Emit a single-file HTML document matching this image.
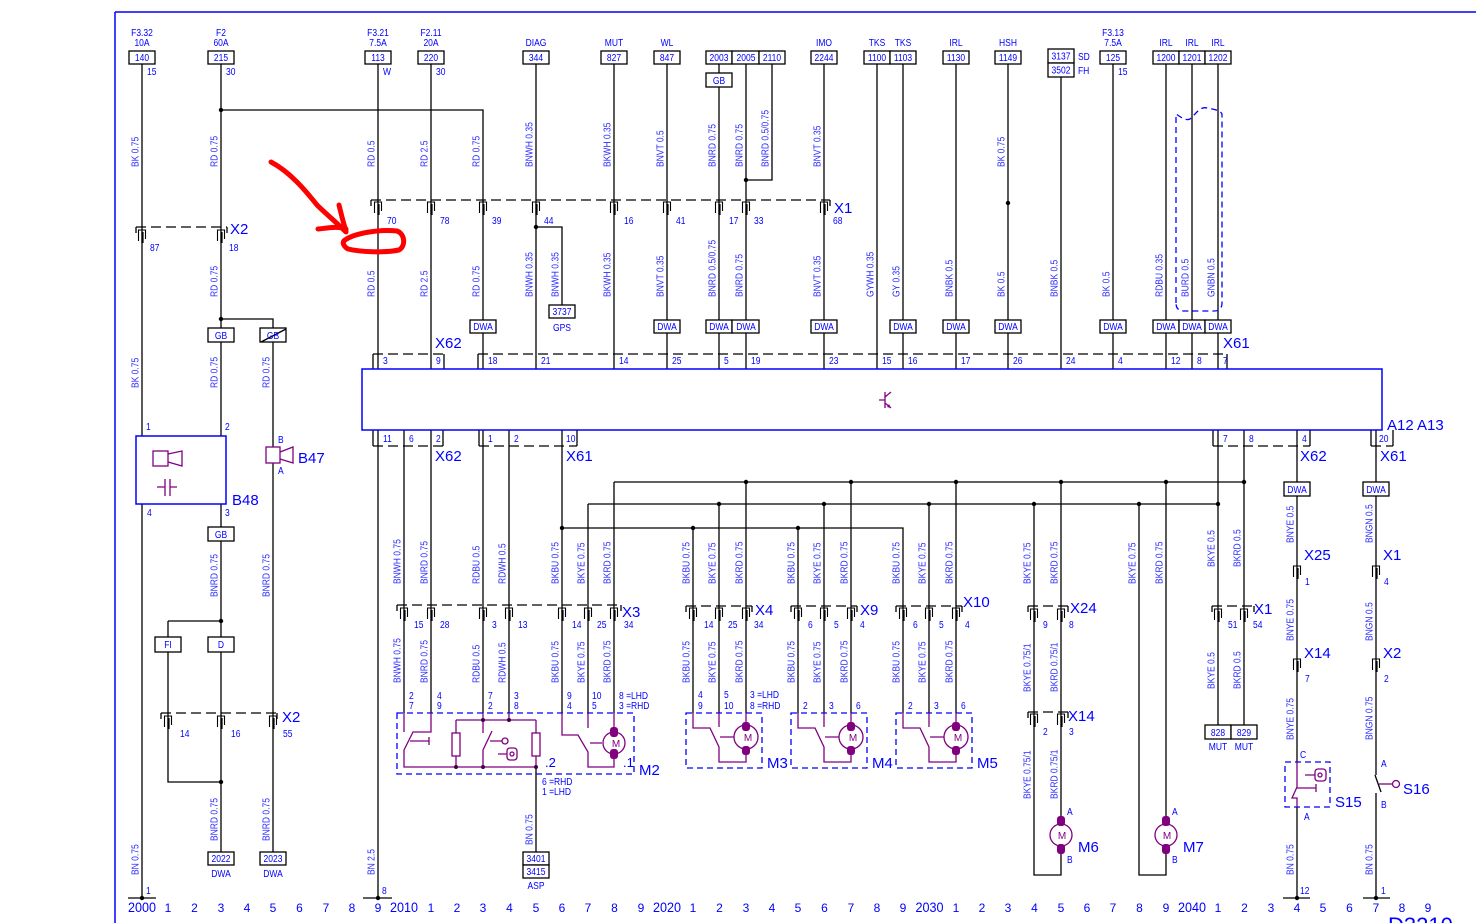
<!DOCTYPE html>
<html><head><meta charset="utf-8"><style>
html,body{margin:0;padding:0;background:#fff}
svg{display:block}
.w{stroke:#000;stroke-width:1.3;fill:none}
.d{stroke:#000;stroke-width:1.3;fill:none;stroke-dasharray:10 5}
.b{fill:#fff;stroke:#000;stroke-width:1.3}
.t{font-family:"Liberation Sans",sans-serif;font-size:10px;fill:#0000ff}
.m{text-anchor:middle}
.r{font-family:"Liberation Sans",sans-serif;font-size:10px;fill:#2a2aff}
.L{font-family:"Liberation Sans",sans-serif;font-size:15px;fill:#0000ff}
.p{stroke:#800080;stroke-width:1.3;fill:none}
.bl{stroke:#0000ff;stroke-width:1.5;fill:none}
.bd{stroke:#0000ff;stroke-width:1.3;fill:none;stroke-dasharray:6 4}
.n{font-family:"Liberation Sans",sans-serif;font-size:12px;fill:#0000ff;text-anchor:middle}
.N{font-family:"Liberation Sans",sans-serif;font-size:14px;fill:#0000ff;text-anchor:middle}
.mt{font-family:"Liberation Sans",sans-serif;font-size:10px;fill:#800080;text-anchor:middle}
</style></head><body>
<svg width="1476" height="923" viewBox="0 0 1476 923">
<defs>
<g id="p"><path d="M-3.5,11V0H3.5V9" fill="none" stroke="#000" stroke-width="1.1"/><path d="M0.5,2V13" stroke="#000" stroke-width="2.2"/></g>
</defs>
<rect x="0" y="0" width="1476" height="923" fill="#fff"/>
<!-- border -->
<path class="bl" d="M115,12H1476M115,12V923"/>

<!-- wires -->
<path class="w" d="M142,64V436M142,504V898
M221,64V436M221,504V852
M221,110H483V369
M221,319H273V447M273,463V852
M168,621H221M168,621V782H221
M378,64V369M378,430V898
M431,64V369M431,430V713
M483,430V713
M536,64V369M536,227H562V305
M404,430V713M509,430V713M562,430V713
M562,528H903V713M693,528V713M798,528V713
M588,504H1218M588,504V713M719,504V713M824,504V713M929,504V713
M1034,504V875H1061V854M1139,504V875H1166V854
M614,482H1244M614,482V713M746,482V713M851,482V713M956,482V713
M1061,482V816M1166,482V816
M614,64V369M667,64V369M719,64V369M746,64V369M772,64V180H746M824,64V369M877,64V369M903,64V369M956,64V369M1008,64V369M1061,77V369M1113,64V369M1166,64V369M1192,64V369M1218,64V369
M1218,430V725M1244,430V725
M1297,430V762M1297,807V898
M1376,430V775M1376,793V898
M536,767V852
M128,898H156M363,898H392M1283,898H1310M1363,898H1390
M371,200V206M830,200V206M136,227V233M227,227V233M161,713V719M277,713V719M397,605V611M621,605V611M686,606V612M752,606V612M791,606V612M857,606V612M896,606V612M962,606V612M1028,606V612M1068,606V612M1028,712V718M1068,712V718M1212,606V612M1254,606V612
M373,354V369M444,354V369M478,354V369M1227,354V369M373,430V446M443,430V446M479,430V446M577,430V446M1213,430V446M1310,430V446M1371,430V446M1393,430V446"/>
<path class="d" d="M371,200H830M136,227H227M161,713H277M397,605H621M686,606H752M791,606H857M896,606H962M1028,606H1068M1028,712H1068M1212,606H1254M373,354H444M478,354H1227M373,446H443M479,446H577M1213,446H1310M1371,446H1393"/>

<!-- dots -->
<g fill="#000">
<circle cx="221" cy="110" r="2.2"/><circle cx="221" cy="319" r="2.2"/><circle cx="221" cy="621" r="2.2"/><circle cx="221" cy="782" r="2.2"/><circle cx="536" cy="227" r="2.2"/><circle cx="746" cy="180" r="2.2"/><circle cx="1008" cy="203" r="2.2"/><circle cx="142" cy="898" r="2.2"/><circle cx="378" cy="898" r="2.2"/><circle cx="1297" cy="898" r="2.2"/><circle cx="1376" cy="898" r="2.2"/><circle cx="562" cy="528" r="2.2"/><circle cx="693" cy="528" r="2.2"/><circle cx="798" cy="528" r="2.2"/><circle cx="719" cy="504" r="2.2"/><circle cx="824" cy="504" r="2.2"/><circle cx="929" cy="504" r="2.2"/><circle cx="1034" cy="504" r="2.2"/><circle cx="1139" cy="504" r="2.2"/><circle cx="1218" cy="504" r="2.2"/><circle cx="746" cy="482" r="2.2"/><circle cx="851" cy="482" r="2.2"/><circle cx="956" cy="482" r="2.2"/><circle cx="1061" cy="482" r="2.2"/><circle cx="1166" cy="482" r="2.2"/><circle cx="1244" cy="482" r="2.2"/>
</g>

<!-- pins -->
<use href="#p" x="378" y="202"/><use href="#p" x="431" y="202"/><use href="#p" x="483" y="202"/><use href="#p" x="536" y="202"/><use href="#p" x="614" y="202"/><use href="#p" x="667" y="202"/><use href="#p" x="719" y="202"/><use href="#p" x="746" y="202"/><use href="#p" x="824" y="202"/>
<use href="#p" x="142" y="230"/><use href="#p" x="221" y="230"/>
<use href="#p" x="168" y="716"/><use href="#p" x="221" y="716"/><use href="#p" x="273" y="716"/>
<use href="#p" x="404" y="608"/><use href="#p" x="431" y="608"/><use href="#p" x="483" y="608"/><use href="#p" x="509" y="608"/><use href="#p" x="562" y="608"/><use href="#p" x="588" y="608"/><use href="#p" x="614" y="608"/>
<use href="#p" x="693" y="608"/><use href="#p" x="719" y="608"/><use href="#p" x="746" y="608"/>
<use href="#p" x="798" y="608"/><use href="#p" x="824" y="608"/><use href="#p" x="851" y="608"/>
<use href="#p" x="903" y="608"/><use href="#p" x="929" y="608"/><use href="#p" x="956" y="608"/>
<use href="#p" x="1034" y="609"/><use href="#p" x="1061" y="609"/><use href="#p" x="1034" y="714"/><use href="#p" x="1061" y="714"/>
<use href="#p" x="1218" y="609"/><use href="#p" x="1244" y="609"/>
<use href="#p" x="1297" y="566"/><use href="#p" x="1297" y="659"/><use href="#p" x="1376" y="566"/><use href="#p" x="1376" y="659"/>

<!-- shield -->
<path class="bd" d="M1176,303V114C1182,118 1186,121 1190,119C1196,114 1200,106 1207,108C1213,109 1220,110 1222,114V303Q1222,311 1214,311H1184Q1176,311 1176,303Z"/>

<!-- main box -->
<rect x="362" y="369" width="1020" height="61" class="bl"/>
<path class="p" d="M879,400H885M885,392V408M885,397L891,392M885,403L891,408"/>
<path d="M891,408l-4,-1l2,-3z" fill="#800080"/>

<!-- B48 -->
<rect x="136" y="436" width="90" height="68" class="bl"/>
<rect x="153" y="451" width="15" height="15" class="p"/>
<path class="p" d="M168,454L182,451V466L168,462"/>
<path class="p" d="M157,487H165M165,479V496M170,479V496M170,487H177"/>
<!-- B47 -->
<rect x="266" y="447" width="14" height="16" class="p"/>
<path class="p" d="M280,452L293,447V463L280,459"/>

<!-- boxes -->
<g class="b">
<rect x="129" y="51" width="26" height="13"/><rect x="208" y="51" width="26" height="13"/><rect x="365" y="51" width="26" height="13"/><rect x="418" y="51" width="26" height="13"/><rect x="523" y="51" width="26" height="13"/><rect x="601" y="51" width="26" height="13"/><rect x="654" y="51" width="26" height="13"/><rect x="706" y="51" width="26" height="13"/><rect x="732" y="51" width="27" height="13"/><rect x="759" y="51" width="26" height="13"/><rect x="811" y="51" width="26" height="13"/><rect x="864" y="51" width="26" height="13"/><rect x="890" y="51" width="26" height="13"/><rect x="943" y="51" width="26" height="13"/><rect x="995" y="51" width="26" height="13"/><rect x="1048" y="49" width="26" height="14"/><rect x="1048" y="63" width="26" height="14"/><rect x="1100" y="51" width="26" height="13"/><rect x="1153" y="51" width="26" height="13"/><rect x="1179" y="51" width="26" height="13"/><rect x="1205" y="51" width="26" height="13"/>
<rect x="706" y="73" width="26" height="14"/>
<rect x="470" y="320" width="26" height="13"/><rect x="654" y="320" width="26" height="13"/><rect x="706" y="320" width="26" height="13"/><rect x="732" y="320" width="27" height="13"/><rect x="811" y="320" width="26" height="13"/><rect x="890" y="320" width="26" height="13"/><rect x="943" y="320" width="26" height="13"/><rect x="995" y="320" width="26" height="13"/><rect x="1100" y="320" width="26" height="13"/><rect x="1153" y="320" width="26" height="13"/><rect x="1179" y="320" width="26" height="13"/><rect x="1205" y="320" width="26" height="13"/>
<rect x="549" y="305" width="26" height="13"/>
<rect x="208" y="328" width="26" height="14"/><rect x="260" y="328" width="26" height="14"/>
<rect x="208" y="527" width="26" height="14"/>
<rect x="155" y="637" width="26" height="15"/><rect x="208" y="637" width="26" height="15"/>
<rect x="208" y="852" width="26" height="13"/><rect x="260" y="852" width="26" height="13"/>
<rect x="523" y="852" width="26" height="13"/><rect x="523" y="865" width="26" height="13"/>
<rect x="1205" y="725" width="26" height="14"/><rect x="1231" y="725" width="26" height="14"/>
<rect x="1284" y="482" width="26" height="14"/><rect x="1363" y="482" width="26" height="14"/>
</g>
<path class="w" d="M261,342L286,329"/>

<!-- M2 -->
<rect x="397" y="713" width="237" height="61" class="bd"/>
<path class="p" d="M404,713V732M431,713V732H413L404,750V767H536M410,741H429M429,737V745M456,720H536M456,720V733M456,756V767M536,720V733M536,756V767M483,713V733M492,731L483,750V767M490,741H502M509,713V720M498,754H507M562,713V735H578L588,752V767H614V759M588,713V728M590,743H602M614,713V727"/>
<rect x="452" y="733" width="8" height="23" class="p"/><rect x="532" y="733" width="8" height="23" class="p"/>
<circle cx="505" cy="741" r="3" class="p"/>
<rect x="507" y="748" width="10" height="12" rx="3" class="p"/><circle cx="512" cy="754" r="2" class="p"/>
<circle cx="614" cy="743" r="11" class="p"/>
<rect x="610" y="727" width="8" height="10" rx="3" fill="#800080"/><rect x="610" y="749" width="8" height="10" rx="3" fill="#800080"/>
<text class="mt" x="616" y="747">M</text>
<g fill="#400040"><circle cx="456" cy="767" r="2"/><circle cx="483" cy="767" r="2"/><circle cx="536" cy="767" r="2"/><circle cx="483" cy="720" r="2"/><circle cx="509" cy="720" r="2"/></g>

<!-- M3 M4 M5 -->
<rect x="686" y="713" width="76" height="55" class="bd"/>
<path class="p" d="M693,713V728H710L719,747V762H746V754M719,713V727M720,737H734M746,713V722"/>
<circle cx="746" cy="737" r="12" class="p"/>
<rect x="742" y="722" width="8" height="9" rx="3" fill="#800080"/><rect x="742" y="746" width="8" height="9" rx="3" fill="#800080"/>
<text class="mt" x="748" y="741">M</text>
<rect x="791" y="713" width="76" height="55" class="bd"/>
<path class="p" d="M798,713V728H815L824,747V762H851V754M824,713V727M825,737H839M851,713V722"/>
<circle cx="851" cy="737" r="12" class="p"/>
<rect x="847" y="722" width="8" height="9" rx="3" fill="#800080"/><rect x="847" y="746" width="8" height="9" rx="3" fill="#800080"/>
<text class="mt" x="853" y="741">M</text>
<rect x="896" y="713" width="76" height="55" class="bd"/>
<path class="p" d="M903,713V728H920L929,747V762H956V754M929,713V727M930,737H944M956,713V722"/>
<circle cx="956" cy="737" r="12" class="p"/>
<rect x="952" y="722" width="8" height="9" rx="3" fill="#800080"/><rect x="952" y="746" width="8" height="9" rx="3" fill="#800080"/>
<text class="mt" x="958" y="741">M</text>

<!-- M6 M7 -->
<circle cx="1061" cy="835" r="11" class="p"/>
<rect x="1057" y="816" width="8" height="10" rx="3" fill="#800080"/><rect x="1057" y="844" width="8" height="10" rx="3" fill="#800080"/>
<text class="mt" x="1062" y="839">M</text>
<circle cx="1166" cy="835" r="11" class="p"/>
<rect x="1162" y="816" width="8" height="10" rx="3" fill="#800080"/><rect x="1162" y="844" width="8" height="10" rx="3" fill="#800080"/>
<text class="mt" x="1167" y="839">M</text>

<!-- S15 S16 -->
<rect x="1285" y="762" width="45" height="45" class="bd"/>
<path class="p" d="M1297,762V787L1292,798H1297V807M1297,788H1316M1316,784V792M1305,775H1315"/>
<rect x="1315" y="769" width="11" height="12" rx="3" class="p"/><circle cx="1320" cy="775" r="2" class="p"/>
<path class="w" d="M1375,775L1381,792"/>
<path class="p" d="M1379,784H1392"/><circle cx="1396" cy="784" r="3.5" class="p"/>

<!-- top labels -->
<g class="t m">
<text transform="translate(142 36) scale(.85 1)">F3.32</text><text transform="translate(142 46) scale(.85 1)">10A</text>
<text transform="translate(221 36) scale(.85 1)">F2</text><text transform="translate(221 46) scale(.85 1)">60A</text>
<text transform="translate(378 36) scale(.85 1)">F3.21</text><text transform="translate(378 46) scale(.85 1)">7.5A</text>
<text transform="translate(431 36) scale(.85 1)">F2.11</text><text transform="translate(431 46) scale(.85 1)">20A</text>
<text transform="translate(536 46) scale(.85 1)">DIAG</text>
<text transform="translate(614 46) scale(.85 1)">MUT</text>
<text transform="translate(667 46) scale(.85 1)">WL</text>
<text transform="translate(824 46) scale(.85 1)">IMO</text>
<text transform="translate(877 46) scale(.85 1)">TKS</text>
<text transform="translate(903 46) scale(.85 1)">TKS</text>
<text transform="translate(956 46) scale(.85 1)">IRL</text>
<text transform="translate(1008 46) scale(.85 1)">HSH</text>
<text transform="translate(1113 36) scale(.85 1)">F3.13</text><text transform="translate(1113 46) scale(.85 1)">7.5A</text>
<text transform="translate(1166 46) scale(.85 1)">IRL</text><text transform="translate(1192 46) scale(.85 1)">IRL</text><text transform="translate(1218 46) scale(.85 1)">IRL</text>
<text transform="translate(142 61) scale(.85 1)">140</text><text transform="translate(221 61) scale(.85 1)">215</text><text transform="translate(378 61) scale(.85 1)">113</text><text transform="translate(431 61) scale(.85 1)">220</text><text transform="translate(536 61) scale(.85 1)">344</text><text transform="translate(614 61) scale(.85 1)">827</text><text transform="translate(667 61) scale(.85 1)">847</text><text transform="translate(719 61) scale(.85 1)">2003</text><text transform="translate(746 61) scale(.85 1)">2005</text><text transform="translate(772 61) scale(.85 1)">2110</text><text transform="translate(824 61) scale(.85 1)">2244</text><text transform="translate(877 61) scale(.85 1)">1100</text><text transform="translate(903 61) scale(.85 1)">1103</text><text transform="translate(956 61) scale(.85 1)">1130</text><text transform="translate(1008 61) scale(.85 1)">1149</text><text transform="translate(1061 59.5) scale(.85 1)">3137</text><text transform="translate(1061 73.5) scale(.85 1)">3502</text><text transform="translate(1113 61) scale(.85 1)">125</text><text transform="translate(1166 61) scale(.85 1)">1200</text><text transform="translate(1192 61) scale(.85 1)">1201</text><text transform="translate(1218 61) scale(.85 1)">1202</text>
<text transform="translate(719 84) scale(.85 1)">GB</text>
<text transform="translate(483 330) scale(.85 1)">DWA</text><text transform="translate(667 330) scale(.85 1)">DWA</text><text transform="translate(719 330) scale(.85 1)">DWA</text><text transform="translate(746 330) scale(.85 1)">DWA</text><text transform="translate(824 330) scale(.85 1)">DWA</text><text transform="translate(903 330) scale(.85 1)">DWA</text><text transform="translate(956 330) scale(.85 1)">DWA</text><text transform="translate(1008 330) scale(.85 1)">DWA</text><text transform="translate(1113 330) scale(.85 1)">DWA</text><text transform="translate(1166 330) scale(.85 1)">DWA</text><text transform="translate(1192 330) scale(.85 1)">DWA</text><text transform="translate(1218 330) scale(.85 1)">DWA</text>
<text transform="translate(562 315) scale(.85 1)">3737</text><text transform="translate(562 331) scale(.85 1)">GPS</text>
<text transform="translate(221 339) scale(.85 1)">GB</text><text transform="translate(273 339) scale(.85 1)">GB</text>
<text transform="translate(221 538) scale(.85 1)">GB</text>
<text transform="translate(168 648) scale(.85 1)">FI</text><text transform="translate(221 648) scale(.85 1)">D</text>
<text transform="translate(221 862) scale(.85 1)">2022</text><text transform="translate(221 877) scale(.85 1)">DWA</text>
<text transform="translate(273 862) scale(.85 1)">2023</text><text transform="translate(273 877) scale(.85 1)">DWA</text>
<text transform="translate(536 862) scale(.85 1)">3401</text><text transform="translate(536 875) scale(.85 1)">3415</text><text transform="translate(536 889) scale(.85 1)">ASP</text>
<text transform="translate(1218 736) scale(.85 1)">828</text><text transform="translate(1244 736) scale(.85 1)">829</text>
<text transform="translate(1218 750) scale(.85 1)">MUT</text><text transform="translate(1244 750) scale(.85 1)">MUT</text>
<text transform="translate(1297 493) scale(.85 1)">DWA</text><text transform="translate(1376 493) scale(.85 1)">DWA</text>
</g>

<!-- small start-anchored texts -->
<g class="t">
<text transform="translate(147 75) scale(.85 1)">15</text><text transform="translate(226 75) scale(.85 1)">30</text><text transform="translate(383 75) scale(.85 1)">W</text><text transform="translate(436 75) scale(.85 1)">30</text><text transform="translate(1118 75) scale(.85 1)">15</text>
<text transform="translate(1078 60) scale(.85 1)">SD</text><text transform="translate(1078 74) scale(.85 1)">FH</text>
<text transform="translate(387 224) scale(.85 1)">70</text><text transform="translate(440 224) scale(.85 1)">78</text><text transform="translate(492 224) scale(.85 1)">39</text><text transform="translate(544 224) scale(.85 1)">44</text><text transform="translate(624 224) scale(.85 1)">16</text><text transform="translate(676 224) scale(.85 1)">41</text><text transform="translate(729 224) scale(.85 1)">17</text><text transform="translate(754 224) scale(.85 1)">33</text><text transform="translate(833 224) scale(.85 1)">68</text>
<text transform="translate(150 251) scale(.85 1)">87</text><text transform="translate(229 251) scale(.85 1)">18</text>
<text transform="translate(180 737) scale(.85 1)">14</text><text transform="translate(231 737) scale(.85 1)">16</text><text transform="translate(283 737) scale(.85 1)">55</text>
<text transform="translate(146 430) scale(.85 1)">1</text><text transform="translate(225 430) scale(.85 1)">2</text><text transform="translate(147 516) scale(.85 1)">4</text><text transform="translate(225 516) scale(.85 1)">3</text>
<text transform="translate(278 443) scale(.85 1)">B</text><text transform="translate(278 474) scale(.85 1)">A</text>
<text transform="translate(383 364) scale(.85 1)">3</text><text transform="translate(436 364) scale(.85 1)">9</text><text transform="translate(488 364) scale(.85 1)">18</text><text transform="translate(541 364) scale(.85 1)">21</text><text transform="translate(619 364) scale(.85 1)">14</text><text transform="translate(672 364) scale(.85 1)">25</text><text transform="translate(724 364) scale(.85 1)">5</text><text transform="translate(751 364) scale(.85 1)">19</text><text transform="translate(829 364) scale(.85 1)">23</text><text transform="translate(882 364) scale(.85 1)">15</text><text transform="translate(908 364) scale(.85 1)">16</text><text transform="translate(961 364) scale(.85 1)">17</text><text transform="translate(1013 364) scale(.85 1)">26</text><text transform="translate(1066 364) scale(.85 1)">24</text><text transform="translate(1118 364) scale(.85 1)">4</text><text transform="translate(1171 364) scale(.85 1)">12</text><text transform="translate(1197 364) scale(.85 1)">8</text><text transform="translate(1223 364) scale(.85 1)">7</text>
<text transform="translate(383 442) scale(.85 1)">11</text><text transform="translate(409 442) scale(.85 1)">6</text><text transform="translate(436 442) scale(.85 1)">2</text><text transform="translate(488 442) scale(.85 1)">1</text><text transform="translate(514 442) scale(.85 1)">2</text><text transform="translate(566 442) scale(.85 1)">10</text><text transform="translate(1223 442) scale(.85 1)">7</text><text transform="translate(1249 442) scale(.85 1)">8</text><text transform="translate(1302 442) scale(.85 1)">4</text><text transform="translate(1379 442) scale(.85 1)">20</text>
<text transform="translate(414 628) scale(.85 1)">15</text><text transform="translate(440 628) scale(.85 1)">28</text><text transform="translate(492 628) scale(.85 1)">3</text><text transform="translate(518 628) scale(.85 1)">13</text><text transform="translate(572 628) scale(.85 1)">14</text><text transform="translate(597 628) scale(.85 1)">25</text><text transform="translate(624 628) scale(.85 1)">34</text>
<text transform="translate(704 628) scale(.85 1)">14</text><text transform="translate(728 628) scale(.85 1)">25</text><text transform="translate(754 628) scale(.85 1)">34</text>
<text transform="translate(808 628) scale(.85 1)">6</text><text transform="translate(834 628) scale(.85 1)">5</text><text transform="translate(860 628) scale(.85 1)">4</text>
<text transform="translate(913 628) scale(.85 1)">6</text><text transform="translate(939 628) scale(.85 1)">5</text><text transform="translate(965 628) scale(.85 1)">4</text>
<text transform="translate(1043 628) scale(.85 1)">9</text><text transform="translate(1069 628) scale(.85 1)">8</text>
<text transform="translate(1043 735) scale(.85 1)">2</text><text transform="translate(1069 735) scale(.85 1)">3</text>
<text transform="translate(1228 628) scale(.85 1)">51</text><text transform="translate(1253 628) scale(.85 1)">54</text>
<text transform="translate(1305 585) scale(.85 1)">1</text><text transform="translate(1305 682) scale(.85 1)">7</text><text transform="translate(1300 894) scale(.85 1)">12</text><text transform="translate(1300 758) scale(.85 1)">C</text><text transform="translate(1304 820) scale(.85 1)">A</text>
<text transform="translate(1384 585) scale(.85 1)">4</text><text transform="translate(1384 682) scale(.85 1)">2</text><text transform="translate(1381 894) scale(.85 1)">1</text><text transform="translate(1381 767) scale(.85 1)">A</text><text transform="translate(1381 808) scale(.85 1)">B</text>
<text transform="translate(146 894) scale(.85 1)">1</text><text transform="translate(382 894) scale(.85 1)">8</text>
<text transform="translate(1067 815) scale(.85 1)">A</text><text transform="translate(1067 863) scale(.85 1)">B</text>
<text transform="translate(1172 815) scale(.85 1)">A</text><text transform="translate(1172 863) scale(.85 1)">B</text>
<text transform="translate(409 699) scale(.85 1)">2</text><text transform="translate(409 709) scale(.85 1)">7</text>
<text transform="translate(437 699) scale(.85 1)">4</text><text transform="translate(437 709) scale(.85 1)">9</text>
<text transform="translate(488 699) scale(.85 1)">7</text><text transform="translate(488 709) scale(.85 1)">2</text>
<text transform="translate(514 699) scale(.85 1)">3</text><text transform="translate(514 709) scale(.85 1)">8</text>
<text transform="translate(567 699) scale(.85 1)">9</text><text transform="translate(567 709) scale(.85 1)">4</text>
<text transform="translate(592 699) scale(.85 1)">10</text><text transform="translate(592 709) scale(.85 1)">5</text>
<text transform="translate(619 699) scale(.85 1)">8 =LHD</text><text transform="translate(619 709) scale(.85 1)">3 =RHD</text>
<text transform="translate(542 785) scale(.85 1)">6 =RHD</text><text transform="translate(542 795) scale(.85 1)">1 =LHD</text>
<text transform="translate(698 698) scale(.85 1)">4</text><text transform="translate(698 709) scale(.85 1)">9</text>
<text transform="translate(724 698) scale(.85 1)">5</text><text transform="translate(724 709) scale(.85 1)">10</text>
<text transform="translate(750 698) scale(.85 1)">3 =LHD</text><text transform="translate(750 709) scale(.85 1)">8 =RHD</text>
<text transform="translate(803 709) scale(.85 1)">2</text><text transform="translate(829 709) scale(.85 1)">3</text><text transform="translate(856 709) scale(.85 1)">6</text>
<text transform="translate(908 709) scale(.85 1)">2</text><text transform="translate(934 709) scale(.85 1)">3</text><text transform="translate(961 709) scale(.85 1)">6</text>
</g>

<!-- rotated wire labels -->
<g class="r">
<text transform="translate(138.5 167) rotate(-90) scale(.85 1)">BK 0.75</text>
<text transform="translate(217.5 167) rotate(-90) scale(.85 1)">RD 0.75</text>
<text transform="translate(374.5 167) rotate(-90) scale(.85 1)">RD 0.5</text>
<text transform="translate(427.5 167) rotate(-90) scale(.85 1)">RD 2.5</text>
<text transform="translate(479.5 167) rotate(-90) scale(.85 1)">RD 0.75</text>
<text transform="translate(532.5 167) rotate(-90) scale(.85 1)">BNWH 0.35</text>
<text transform="translate(610.5 167) rotate(-90) scale(.85 1)">BKWH 0.35</text>
<text transform="translate(663.5 167) rotate(-90) scale(.85 1)">BNVT 0.5</text>
<text transform="translate(715.5 167) rotate(-90) scale(.85 1)">BNRD 0.75</text>
<text transform="translate(742.5 167) rotate(-90) scale(.85 1)">BNRD 0.75</text>
<text transform="translate(768.5 167) rotate(-90) scale(.85 1)">BNRD 0.5/0.75</text>
<text transform="translate(820.5 167) rotate(-90) scale(.85 1)">BNVT 0.35</text>
<text transform="translate(1004.5 167) rotate(-90) scale(.85 1)">BK 0.75</text>

<text transform="translate(217.5 297) rotate(-90) scale(.85 1)">RD 0.75</text>
<text transform="translate(374.5 297) rotate(-90) scale(.85 1)">RD 0.5</text>
<text transform="translate(427.5 297) rotate(-90) scale(.85 1)">RD 2.5</text>
<text transform="translate(479.5 297) rotate(-90) scale(.85 1)">RD 0.75</text>
<text transform="translate(532.5 297) rotate(-90) scale(.85 1)">BNWH 0.35</text>
<text transform="translate(558.5 297) rotate(-90) scale(.85 1)">BNWH 0.35</text>
<text transform="translate(610.5 297) rotate(-90) scale(.85 1)">BKWH 0.35</text>
<text transform="translate(663.5 297) rotate(-90) scale(.85 1)">BNVT 0.35</text>
<text transform="translate(715.5 297) rotate(-90) scale(.85 1)">BNRD 0.5/0.75</text>
<text transform="translate(742.5 297) rotate(-90) scale(.85 1)">BNRD 0.75</text>
<text transform="translate(820.5 297) rotate(-90) scale(.85 1)">BNVT 0.35</text>
<text transform="translate(873.5 297) rotate(-90) scale(.85 1)">GYWH 0.35</text>
<text transform="translate(899.5 297) rotate(-90) scale(.85 1)">GY 0.35</text>
<text transform="translate(952.5 297) rotate(-90) scale(.85 1)">BNBK 0.5</text>
<text transform="translate(1004.5 297) rotate(-90) scale(.85 1)">BK 0.5</text>
<text transform="translate(1057.5 297) rotate(-90) scale(.85 1)">BNBK 0.5</text>
<text transform="translate(1109.5 297) rotate(-90) scale(.85 1)">BK 0.5</text>
<text transform="translate(1162.5 297) rotate(-90) scale(.85 1)">RDBU 0.35</text>
<text transform="translate(1188.5 297) rotate(-90) scale(.85 1)">BURD 0.5</text>
<text transform="translate(1214.5 297) rotate(-90) scale(.85 1)">GNBN 0.5</text>

<text transform="translate(138.5 388) rotate(-90) scale(.85 1)">BK 0.75</text>
<text transform="translate(217.5 388) rotate(-90) scale(.85 1)">RD 0.75</text>
<text transform="translate(269.5 388) rotate(-90) scale(.85 1)">RD 0.75</text>
<text transform="translate(217.5 597) rotate(-90) scale(.85 1)">BNRD 0.75</text>
<text transform="translate(269.5 597) rotate(-90) scale(.85 1)">BNRD 0.75</text>
<text transform="translate(217.5 841) rotate(-90) scale(.85 1)">BNRD 0.75</text>
<text transform="translate(269.5 841) rotate(-90) scale(.85 1)">BNRD 0.75</text>
<text transform="translate(138.5 875) rotate(-90) scale(.85 1)">BN 0.75</text>
<text transform="translate(374.5 875) rotate(-90) scale(.85 1)">BN 2.5</text>
<text transform="translate(1293.5 875) rotate(-90) scale(.85 1)">BN 0.75</text>
<text transform="translate(1372.5 875) rotate(-90) scale(.85 1)">BN 0.75</text>
<text transform="translate(532.5 845) rotate(-90) scale(.85 1)">BN 0.75</text>

<text transform="translate(400.5 584) rotate(-90) scale(.85 1)">BNWH 0.75</text>
<text transform="translate(427.5 584) rotate(-90) scale(.85 1)">BNRD 0.75</text>
<text transform="translate(479.5 584) rotate(-90) scale(.85 1)">RDBU 0.5</text>
<text transform="translate(505.5 584) rotate(-90) scale(.85 1)">RDWH 0.5</text>
<text transform="translate(558.5 584) rotate(-90) scale(.85 1)">BKBU 0.75</text>
<text transform="translate(584.5 584) rotate(-90) scale(.85 1)">BKYE 0.75</text>
<text transform="translate(610.5 584) rotate(-90) scale(.85 1)">BKRD 0.75</text>
<text transform="translate(689.5 584) rotate(-90) scale(.85 1)">BKBU 0.75</text>
<text transform="translate(715.5 584) rotate(-90) scale(.85 1)">BKYE 0.75</text>
<text transform="translate(742.5 584) rotate(-90) scale(.85 1)">BKRD 0.75</text>
<text transform="translate(794.5 584) rotate(-90) scale(.85 1)">BKBU 0.75</text>
<text transform="translate(820.5 584) rotate(-90) scale(.85 1)">BKYE 0.75</text>
<text transform="translate(847.5 584) rotate(-90) scale(.85 1)">BKRD 0.75</text>
<text transform="translate(899.5 584) rotate(-90) scale(.85 1)">BKBU 0.75</text>
<text transform="translate(925.5 584) rotate(-90) scale(.85 1)">BKYE 0.75</text>
<text transform="translate(952.5 584) rotate(-90) scale(.85 1)">BKRD 0.75</text>
<text transform="translate(1030.5 584) rotate(-90) scale(.85 1)">BKYE 0.75</text>
<text transform="translate(1057.5 584) rotate(-90) scale(.85 1)">BKRD 0.75</text>
<text transform="translate(1135.5 584) rotate(-90) scale(.85 1)">BKYE 0.75</text>
<text transform="translate(1162.5 584) rotate(-90) scale(.85 1)">BKRD 0.75</text>

<text transform="translate(400.5 683) rotate(-90) scale(.85 1)">BNWH 0.75</text>
<text transform="translate(427.5 683) rotate(-90) scale(.85 1)">BNRD 0.75</text>
<text transform="translate(479.5 683) rotate(-90) scale(.85 1)">RDBU 0.5</text>
<text transform="translate(505.5 683) rotate(-90) scale(.85 1)">RDWH 0.5</text>
<text transform="translate(558.5 683) rotate(-90) scale(.85 1)">BKBU 0.75</text>
<text transform="translate(584.5 683) rotate(-90) scale(.85 1)">BKYE 0.75</text>
<text transform="translate(610.5 683) rotate(-90) scale(.85 1)">BKRD 0.75</text>
<text transform="translate(689.5 683) rotate(-90) scale(.85 1)">BKBU 0.75</text>
<text transform="translate(715.5 683) rotate(-90) scale(.85 1)">BKYE 0.75</text>
<text transform="translate(742.5 683) rotate(-90) scale(.85 1)">BKRD 0.75</text>
<text transform="translate(794.5 683) rotate(-90) scale(.85 1)">BKBU 0.75</text>
<text transform="translate(820.5 683) rotate(-90) scale(.85 1)">BKYE 0.75</text>
<text transform="translate(847.5 683) rotate(-90) scale(.85 1)">BKRD 0.75</text>
<text transform="translate(899.5 683) rotate(-90) scale(.85 1)">BKBU 0.75</text>
<text transform="translate(925.5 683) rotate(-90) scale(.85 1)">BKYE 0.75</text>
<text transform="translate(952.5 683) rotate(-90) scale(.85 1)">BKRD 0.75</text>

<text transform="translate(1030.5 692) rotate(-90) scale(.85 1)">BKYE 0.75/1</text>
<text transform="translate(1057.5 692) rotate(-90) scale(.85 1)">BKRD 0.75/1</text>
<text transform="translate(1030.5 799) rotate(-90) scale(.85 1)">BKYE 0.75/1</text>
<text transform="translate(1057.5 799) rotate(-90) scale(.85 1)">BKRD 0.75/1</text>
<text transform="translate(1214.5 567) rotate(-90) scale(.85 1)">BKYE 0.5</text>
<text transform="translate(1240.5 567) rotate(-90) scale(.85 1)">BKRD 0.5</text>
<text transform="translate(1214.5 689) rotate(-90) scale(.85 1)">BKYE 0.5</text>
<text transform="translate(1240.5 689) rotate(-90) scale(.85 1)">BKRD 0.5</text>
<text transform="translate(1293.5 543) rotate(-90) scale(.85 1)">BNYE 0.5</text>
<text transform="translate(1372.5 543) rotate(-90) scale(.85 1)">BNGN 0.5</text>
<text transform="translate(1293.5 641) rotate(-90) scale(.85 1)">BNYE 0.75</text>
<text transform="translate(1372.5 641) rotate(-90) scale(.85 1)">BNGN 0.5</text>
<text transform="translate(1293.5 740) rotate(-90) scale(.85 1)">BNYE 0.75</text>
<text transform="translate(1372.5 740) rotate(-90) scale(.85 1)">BNGN 0.75</text>
</g>

<!-- big labels -->
<g class="L">
<text x="230" y="234">X2</text>
<text x="282" y="722">X2</text>
<text x="834" y="213">X1</text>
<text x="435" y="348">X62</text>
<text x="1223" y="348">X61</text>
<text x="435" y="461">X62</text>
<text x="566" y="461">X61</text>
<text x="1300" y="461">X62</text>
<text x="1380" y="461">X61</text>
<text x="1387" y="430">A12  A13</text>
<text x="232" y="505">B48</text>
<text x="298" y="463">B47</text>
<text x="622" y="617">X3</text>
<text x="755" y="615">X4</text>
<text x="860" y="615">X9</text>
<text x="963" y="607">X10</text>
<text x="1070" y="613">X24</text>
<text x="1068" y="721">X14</text>
<text x="1254" y="614">X1</text>
<text x="1304" y="560">X25</text>
<text x="1383" y="560">X1</text>
<text x="1304" y="658">X14</text>
<text x="1383" y="658">X2</text>
<text x="639" y="775">M2</text>
<text x="767" y="768">M3</text>
<text x="872" y="768">M4</text>
<text x="977" y="768">M5</text>
<text x="1078" y="852">M6</text>
<text x="1183" y="852">M7</text>
<text x="1335" y="807">S15</text>
<text x="1403" y="794">S16</text>
<text x="545" y="767" style="font-size:13px">.2</text>
<text x="623" y="767" style="font-size:13px">.1</text>
<text x="1388" y="933" style="font-size:22px">D3210</text>
</g>

<!-- bottom scale -->
<g>
<text class="N" transform="translate(142 912) scale(.9 1)">2000</text>
<text class="n" x="168" y="912">1</text><text class="n" x="194.5" y="912">2</text><text class="n" x="221" y="912">3</text><text class="n" x="247" y="912">4</text><text class="n" x="273" y="912">5</text><text class="n" x="299.5" y="912">6</text><text class="n" x="326" y="912">7</text><text class="n" x="352" y="912">8</text><text class="n" x="378" y="912">9</text>
<text class="N" transform="translate(404 912) scale(.9 1)">2010</text>
<text class="n" x="431" y="912">1</text><text class="n" x="457" y="912">2</text><text class="n" x="483" y="912">3</text><text class="n" x="509.5" y="912">4</text><text class="n" x="536" y="912">5</text><text class="n" x="562" y="912">6</text><text class="n" x="588" y="912">7</text><text class="n" x="614.5" y="912">8</text><text class="n" x="641" y="912">9</text>
<text class="N" transform="translate(667 912) scale(.9 1)">2020</text>
<text class="n" x="693" y="912">1</text><text class="n" x="719.5" y="912">2</text><text class="n" x="746" y="912">3</text><text class="n" x="772" y="912">4</text><text class="n" x="798" y="912">5</text><text class="n" x="824.5" y="912">6</text><text class="n" x="851" y="912">7</text><text class="n" x="877" y="912">8</text><text class="n" x="903" y="912">9</text>
<text class="N" transform="translate(929.5 912) scale(.9 1)">2030</text>
<text class="n" x="956" y="912">1</text><text class="n" x="982" y="912">2</text><text class="n" x="1008" y="912">3</text><text class="n" x="1034.5" y="912">4</text><text class="n" x="1061" y="912">5</text><text class="n" x="1087" y="912">6</text><text class="n" x="1113" y="912">7</text><text class="n" x="1139.5" y="912">8</text><text class="n" x="1166" y="912">9</text>
<text class="N" transform="translate(1192 912) scale(.9 1)">2040</text>
<text class="n" x="1218" y="912">1</text><text class="n" x="1244.5" y="912">2</text><text class="n" x="1271" y="912">3</text><text class="n" x="1297" y="912">4</text><text class="n" x="1323" y="912">5</text><text class="n" x="1349.5" y="912">6</text><text class="n" x="1376" y="912">7</text><text class="n" x="1402" y="912">8</text><text class="n" x="1428" y="912">9</text>
</g>

<!-- red annotation -->
<g fill="none" stroke="#ff0000" stroke-width="5" stroke-linecap="round" stroke-linejoin="round">
<path d="M271,162C290,172 305,190 317,205C325,213 335,221 346,232"/>
<path d="M318,229C328,228 338,226 346,229"/>
<path d="M339,205C341,213 343,222 346,231"/>
<path d="M345,240C355,233 380,229 397,231C405,234 406,246 399,250C385,253 360,252 348,249C343,246 342,242 345,240"/>
</g>
</svg>
</body></html>
